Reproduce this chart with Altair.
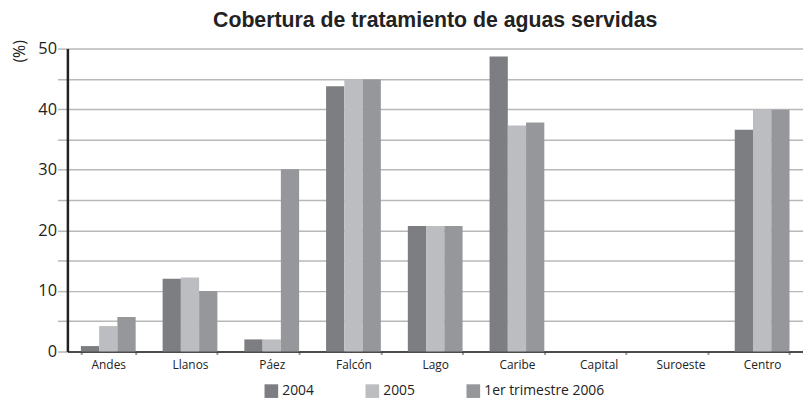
import altair as alt
import pandas as pd

regions = ["Andes", "Llanos", "Páez", "Falcón", "Lago", "Caribe", "Capital", "Suroeste", "Centro"]
series = ["2004", "2005", "1er trimestre 2006"]
v2004 = [0.9, 12.0, 2.0, 43.8, 20.7, 48.7, 0, 0, 36.6]
v2005 = [4.2, 12.2, 2.0, 44.9, 20.7, 37.3, 0, 0, 39.9]
v2006 = [5.7, 10.0, 30.1, 44.9, 20.7, 37.8, 0, 0, 39.9]
colors = ["#7d7e82", "#bcbdc0", "#96979b"]

rows = []
for s, vals in zip(series, [v2004, v2005, v2006]):
    for r, v in zip(regions, vals):
        rows.append({"region": r, "serie": s, "valor": v})
df = pd.DataFrame(rows)

chart = alt.Chart(df).mark_bar().encode(
    x=alt.X("region:N", sort=regions, title=None,
            scale=alt.Scale(paddingInner=0.33, paddingOuter=0.165),
            axis=alt.Axis(labelAngle=0, labelFont="Open Sans", labelFontSize=12,
                          labelColor="#222", labelPadding=5,
                          domainColor="#222", domainWidth=1.5,
                          tickBand="extent", tickColor="#999", tickWidth=2, tickSize=3)),
    xOffset=alt.XOffset("serie:N", sort=series),
    y=alt.Y("valor:Q", title="(%)",
            scale=alt.Scale(domain=[0, 50], nice=False),
            axis=alt.Axis(values=list(range(0, 51, 5)),
                          labelExpr="datum.value % 10 == 0 ? datum.label : ''",
                          labelFont="Open Sans", labelFontSize=16.5, labelColor="#222",
                          labelPadding=1,
                          domainColor="#222", domainWidth=2.5,
                          tickColor="#b8b8b8", tickWidth=1.5, tickSize=10,
                          gridColor="#b8b8b8", gridWidth=1.5, gridOpacity=1,
                          titleAngle=-90, titleX=-48, titleY=-9, titleAlign="right",
                          titleBaseline="middle", titleFont="Open Sans",
                          titleFontSize=16, titleFontWeight="normal", titleColor="#222")),
    color=alt.Color("serie:N", sort=series,
                    scale=alt.Scale(domain=series, range=colors),
                    legend=alt.Legend(title=None, orient="none", direction="horizontal",
                                      legendX=199, legendY=339, columns=3,
                                      symbolType="square", symbolSize=190,
                                      symbolStrokeWidth=0, symbolOpacity=1,
                                      labelFont="Open Sans", labelFontSize=14,
                                      labelColor="#222", labelOffset=4,
                                      columnPadding=51, padding=0)),
).properties(
    width=743,
    height=306,
    title=alt.TitleParams("Cobertura de tratamiento de aguas servidas",
                          font="Liberation Sans", fontSize=21.5, fontWeight="bold",
                          color="#222", anchor="middle", offset=8),
    autosize=alt.AutoSizeParams(type="none"),
    padding={"left": 60, "top": 39, "right": 0, "bottom": 48},
).configure_view(stroke=None).configure_axis(grid=True).configure_axisX(grid=False)

chart.save("out.html", embed_options={"renderer": "svg", "actions": False})
